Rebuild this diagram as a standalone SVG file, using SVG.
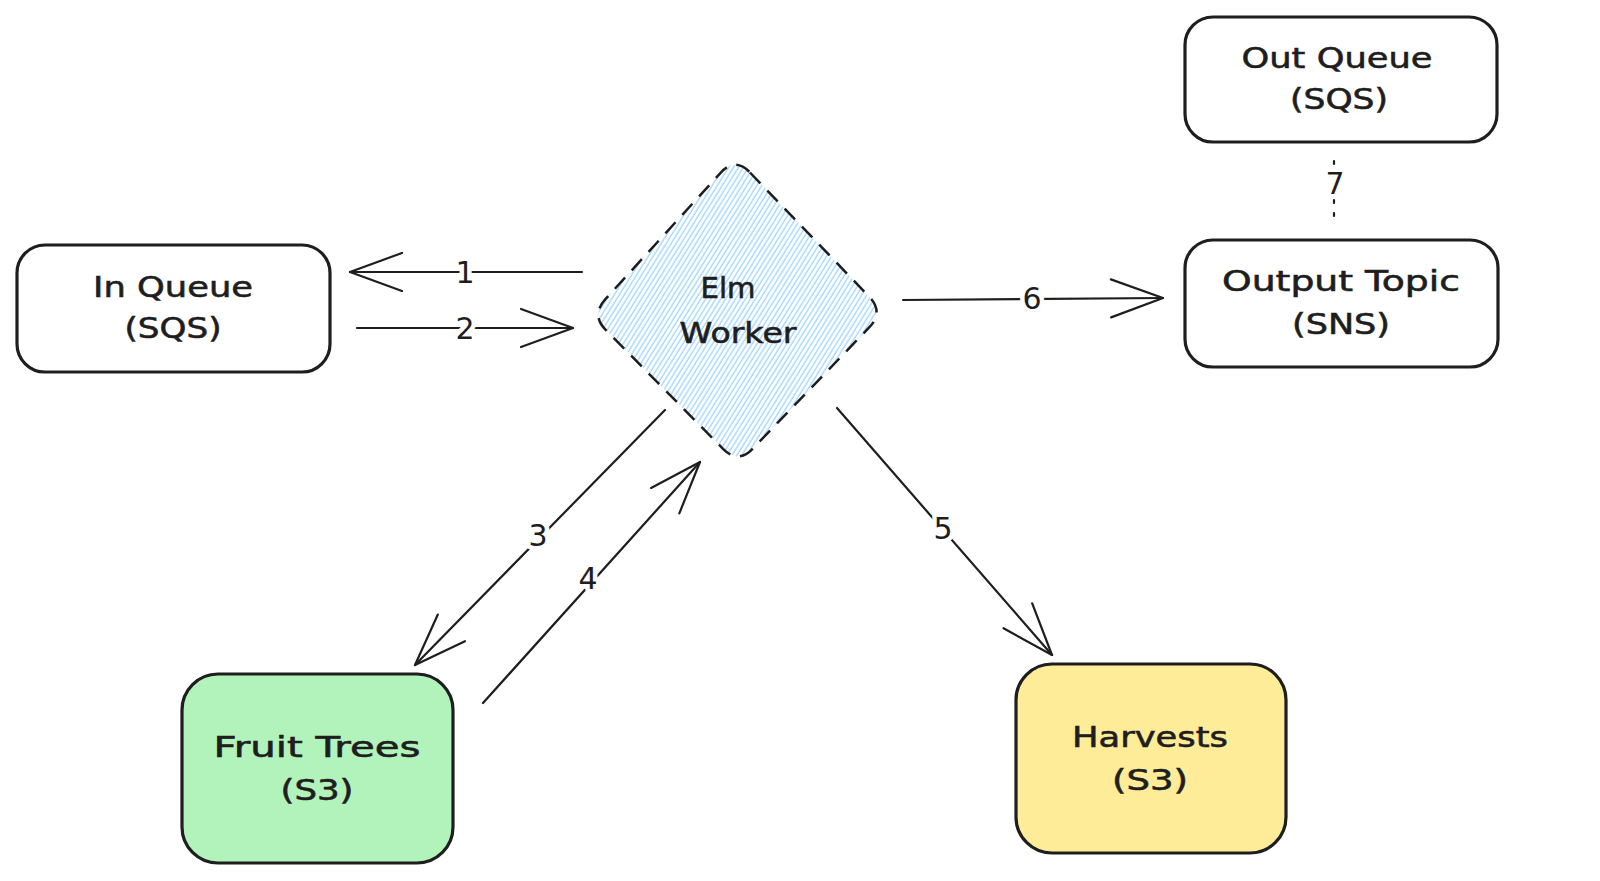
<svg xmlns="http://www.w3.org/2000/svg" width="1600" height="881" viewBox="0 0 1600 881">
<style>
.box{stroke:#1e1e1e;stroke-width:3.2;}
.t{font-family:"DejaVu Sans","Liberation Sans",sans-serif;font-size:29px;fill:#1e1e1e;text-anchor:middle;stroke:#1e1e1e;stroke-width:0.6;}
.lbl{font-family:"DejaVu Sans","Liberation Sans",sans-serif;font-size:30px;fill:#1e1e1e;text-anchor:middle;stroke:#ffffff;stroke-width:9;paint-order:stroke fill;stroke-linejoin:round;}
.c{stroke:#1e1e1e;stroke-width:2.2;fill:none;stroke-linecap:round;}
</style>
<defs>
<marker id="ah" markerUnits="userSpaceOnUse" orient="auto" refX="0" refY="0" markerWidth="60" markerHeight="60" overflow="visible">
<path d="M -52 -19 L 0 0 L -52 19" fill="none" stroke="#1e1e1e" stroke-width="2.2" stroke-linecap="round" stroke-linejoin="round"/>
</marker>
<pattern id="hatch" patternUnits="userSpaceOnUse" width="4.2" height="10" patternTransform="rotate(32)">
<line x1="1" y1="0" x2="1" y2="10" stroke="#a5d8ff" stroke-width="1.4"/>
</pattern>
</defs>
<rect width="1600" height="881" fill="#ffffff"/>

<g id="connectors">
<line class="c" x1="582" y1="272" x2="350" y2="272" marker-end="url(#ah)"/>
<line class="c" x1="357" y1="328" x2="573" y2="328" marker-end="url(#ah)"/>
<line class="c" x1="665" y1="410" x2="415" y2="665" marker-end="url(#ah)"/>
<line class="c" x1="483" y1="703" x2="700" y2="462" marker-end="url(#ah)"/>
<line class="c" x1="837" y1="408" x2="1052" y2="655" marker-end="url(#ah)"/>
<line class="c" x1="903" y1="300" x2="1163" y2="298" marker-end="url(#ah)"/>
<line class="c" x1="1334" y1="161" x2="1334" y2="219" stroke-dasharray="3 10"/>
<text class="lbl" x="465" y="283">1</text>
<text class="lbl" x="465" y="339">2</text>
<text class="lbl" x="538" y="546">3</text>
<text class="lbl" x="588" y="589">4</text>
<text class="lbl" x="943" y="539">5</text>
<text class="lbl" x="1032" y="309">6</text>
<text class="lbl" x="1335" y="194">7</text>
</g>

<g id="in-queue">
<rect class="box" x="17" y="245" width="313" height="127" rx="28" fill="#ffffff"/>
<text class="t" x="173" y="297" textLength="160" lengthAdjust="spacingAndGlyphs">In Queue</text>
<text class="t" x="173" y="338" textLength="97" lengthAdjust="spacingAndGlyphs">(SQS)</text>
</g>

<g id="elm-worker">
<path d="M 750 172.5 L 869 296.5 Q 884 312 869.4 327.2 L 752.6 448.8 Q 738 464 723.3 449.1 L 605.7 329.9 Q 591 315 605.4 299.2 L 720.6 172.8 Q 735 157 750 172.5 Z" fill="url(#hatch)" stroke="#1e1e1e" stroke-width="2.5" stroke-dasharray="15 10"/>
<text class="t" x="728" y="298" textLength="55" lengthAdjust="spacingAndGlyphs">Elm</text>
<text class="t" x="738" y="343" textLength="117" lengthAdjust="spacingAndGlyphs">Worker</text>
</g>

<g id="out-queue">
<rect class="box" x="1185" y="17" width="312" height="125" rx="28" fill="#ffffff"/>
<text class="t" x="1337" y="68" textLength="191" lengthAdjust="spacingAndGlyphs">Out Queue</text>
<text class="t" x="1339" y="109" textLength="98" lengthAdjust="spacingAndGlyphs">(SQS)</text>
</g>

<g id="output-topic">
<rect class="box" x="1185" y="240" width="313" height="127" rx="28" fill="#ffffff"/>
<text class="t" x="1341" y="291" textLength="238" lengthAdjust="spacingAndGlyphs">Output Topic</text>
<text class="t" x="1341" y="334" textLength="98" lengthAdjust="spacingAndGlyphs">(SNS)</text>
</g>

<g id="fruit-trees">
<rect class="box" x="182" y="674" width="271" height="189" rx="36" fill="#b2f2bb"/>
<text class="t" x="317" y="757" textLength="207" lengthAdjust="spacingAndGlyphs">Fruit Trees</text>
<text class="t" x="317" y="800" textLength="73" lengthAdjust="spacingAndGlyphs">(S3)</text>
</g>

<g id="harvests">
<rect class="box" x="1016" y="664" width="270" height="189" rx="36" fill="#ffec99"/>
<text class="t" x="1150" y="747" textLength="156" lengthAdjust="spacingAndGlyphs">Harvests</text>
<text class="t" x="1150" y="790" textLength="76" lengthAdjust="spacingAndGlyphs">(S3)</text>
</g>
</svg>
